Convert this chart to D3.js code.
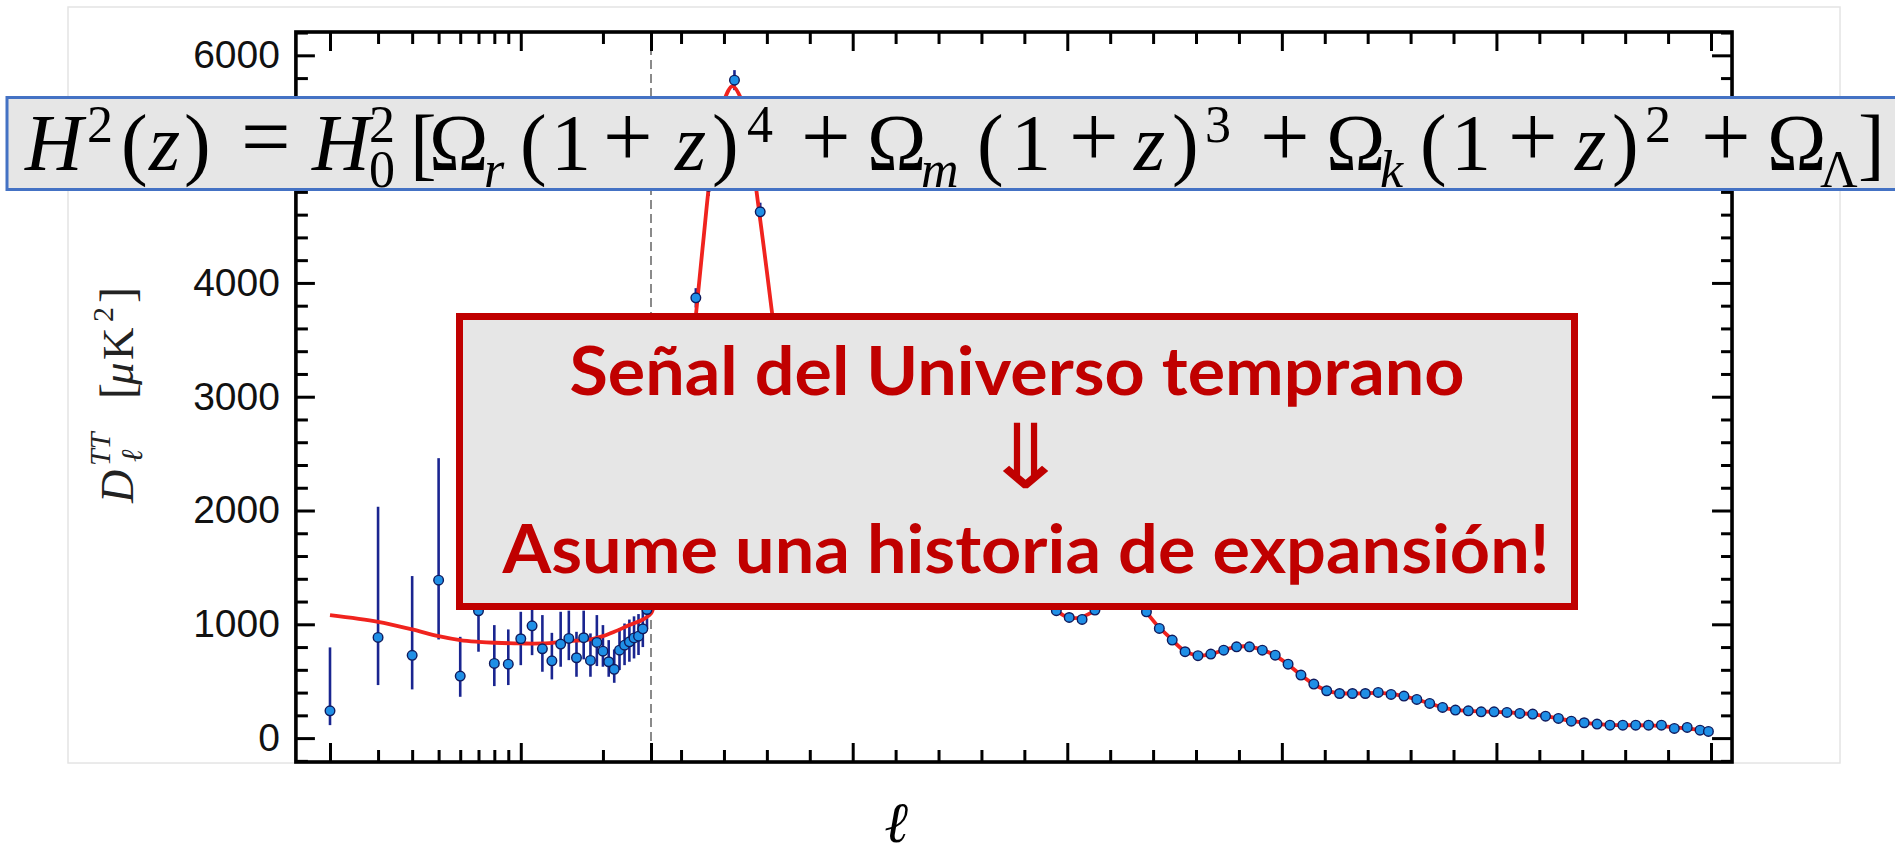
<!DOCTYPE html>
<html><head><meta charset="utf-8">
<script src="https://cdn.jsdelivr.net/npm/d3@7"></script>
<style>body{margin:0;background:#fff}svg{display:block}</style>
</head><body>
<svg id="c" width="1895" height="855"></svg>
<script>
// ---------- data ----------
const lowL  = [2,3,4,5,6,7,8,9,10,11,12,13,14,15,16,17,18,19,20,21,22,23,24,25,26,27,28,29];
const lowD  = [240,885,727,1388,545,1119,656,650,873,987,785,679,826,876,706,882,683,841,764,671,604,773,817,846,880,896,960,1130];
const lowLo = [114,466,428,867,363,759,457,466,641,729,583,516,627,685,539,692,539,633,627,539,486,598,641,671,700,730,800,960];
const lowHi = [797,2033,1424,2460,890,1480,993,955,1110,1250,1081,925,1110,1120,934,1120,920,1081,993,861,779,963,1007,1042,1070,1090,1140,1300];

const binL = [44.5,74.5,104.5,134.5,164.5,194.5,224.5,254.5,284.5,314.5,344.5,374.5,404.5,434.5,464.5,494.5,524.5,554.5,584.5,614.5,644.5,674.5,704.5,734.5,764.5,794.5,824.5,854.5,884.5,914.5,944.5,974.5,1004.5,1034.5,1064.5,1094.5,1124.5,1154.5,1184.5,1214.5,1244.5,1274.5,1304.5,1334.5,1364.5,1394.5,1424.5,1454.5,1484.5,1514.5,1544.5,1574.5,1604.5,1634.5,1664.5,1694.5,1724.5,1754.5,1784.5,1814.5,1844.5,1874.5,1904.5,1934.5,1964.5,1994.5,2024.5,2054.5,2084.5,2114.5,2144.5,2174.5,2204.5,2234.5,2264.5,2294.5,2324.5,2354.5,2384.5,2414.5,2444.5,2474.5,2494];
const binD = [1290,1830,2620,3869,4850,5530,5782,5350,4625,3650,2780,2110,1790,1790,2080,2420,2580,2550,2330,2050,1860,1800,1890,2110,2370,2500,2490,2280,1930,1560,1270,1120,1060,1043,1125,1185,1235,1200,1110,964,861,759,724,738,773,802,802,773,729,650,554,475,416,392,392,392,401,384,369,340,305,270,246,240,231,231,226,217,211,193,173,149,135,123,114,114,114,114,114,85,94,70,59];
const binErr = [70,75,80,85,85,85,88,85,80,70,60,55,50,50,50,50,50,48,45,42,40,38,36,35,34,33,32,30,28,26,24,22,20,20,20,19,18,18,17,16,15,15,14,14,13,13,13,12,12,12,11,11,11,11,11,11,11,11,11,11,11,11,11,11,11,11,11,12,12,12,12,12,12,12,12,13,13,13,13,14,14,15,15];

const modelL = [2,3,4,5,6,7,8,10,12,15,18,20,22,25,28,30,40,50,60,75,100,125,150,175,200,220,240,250,275,300,325,350,375,400,420,450,475,500,525,540,560,590,620,650,675,700,730,760,790,815,840,870,900,930,960,990,1010,1030,1060,1090,1120,1150,1180,1210,1240,1270,1300,1330,1360,1390,1420,1450,1480,1510,1540,1570,1600,1630,1660,1690,1720,1750,1780,1810,1840,1870,1900,1930,1960,1990,2020,2050,2080,2110,2140,2170,2200,2230,2260,2290,2320,2350,2380,2410,2440,2470,2500];
const modelD = [1081,1022,955,896,861,846,838,832,832,852,867,896,934,993,1042,1095,1220,1400,1560,1850,2480,3350,4300,5150,5600,5730,5620,5480,4830,4100,3350,2650,2100,1800,1730,1900,2200,2450,2580,2600,2550,2300,2000,1840,1800,1880,2100,2350,2500,2520,2420,2150,1750,1400,1180,1080,1055,1060,1110,1180,1230,1210,1120,990,880,775,728,733,768,800,806,780,735,660,568,485,425,396,392,393,397,390,372,345,310,275,250,240,234,231,227,220,211,196,176,154,138,125,117,114,113,112,108,96,86,74,63];

const yLabelVals   = [0,1000,2000,3000,4000,5000,6000];
const yMinorVals   = d3.range(-200, 6201, 200);
const lLogMajor    = [2,10,30];
const lLogMinor    = [3,4,5,6,7,8,9,20];
const lLinMajor    = [500,1000,1500,2000,2500];
const lLinMinor    = d3.range(100, 2501, 100).filter(v => v % 500 !== 0);
const boxLines     = ["Señal del Universo temprano", "⇓", "Asume una historia de expansión!"];
const yTitle       = ["D", "TT", "ℓ", "[", "μ", "K", "2", "]"];
const xTitle       = "ℓ";

// ---------- scales ----------
const xLog = d3.scaleLog().domain([2, 30]).range([330, 651]);
const xLin = d3.scaleLinear().domain([30, 2500]).range([651, 1711]);
const x = l => (l < 30 ? xLog(l) : xLin(l));
const y = d3.scaleLinear().domain([-210, 6205]).range([762, 32]);
const X0 = xLog(1.5), X1 = xLin(2549), Y0 = y(-210), Y1 = y(6205);

const svg = d3.select("#c");
svg.append("rect").attr("width",1895).attr("height",855).attr("fill","#fff");

// light outer border of the pasted figure
svg.append("rect").attr("x",68).attr("y",7).attr("width",1772).attr("height",756)
  .attr("fill","none").attr("stroke","#e4e4e4").attr("stroke-width",1.5);

svg.append("clipPath").attr("id","pc").append("rect")
  .attr("x",X0).attr("y",Y1).attr("width",X1-X0).attr("height",Y0-Y1);

// dashed divider at l=30
svg.append("line").attr("x1",x(30)).attr("x2",x(30)).attr("y1",Y1).attr("y2",Y0)
  .attr("stroke","#8a8a8a").attr("stroke-width",2).attr("stroke-dasharray","9,5");

// ---------- axes (ticks inward) ----------
const tickStyle = g => {
  g.select(".domain").remove();
  g.selectAll(".tick line").attr("stroke","#000").attr("stroke-width",3);
};
function xTicks(axisFn, ypos) {
  [[xLog, lLogMajor, 19],[xLog, lLogMinor, 12],[xLin, lLinMajor, 19],[xLin, lLinMinor, 12]].forEach(([sc, vals, len]) => {
    svg.append("g").attr("transform",`translate(0,${ypos})`)
      .call(axisFn(sc).tickValues(vals).tickSize(-len).tickFormat(""))
      .call(tickStyle);
  });
}
xTicks(d3.axisBottom, Y0);
xTicks(d3.axisTop, Y1);

svg.append("g").attr("transform",`translate(${X0},0)`)
  .call(d3.axisLeft(y).tickValues(yMinorVals.filter(v=>v%1000!==0)).tickSize(-12).tickFormat(""))
  .call(tickStyle);
const yl = svg.append("g").attr("transform",`translate(${X0},0)`)
  .call(d3.axisLeft(y).tickValues(yLabelVals).tickSize(-19).tickPadding(16).tickFormat(d3.format("d")))
  .call(tickStyle);
yl.selectAll("text").attr("font-family","'Liberation Sans', Arial, sans-serif").attr("font-size",39).attr("fill","#111");
svg.append("g").attr("transform",`translate(${X1},0)`)
  .call(d3.axisRight(y).tickValues(yMinorVals.filter(v=>v%1000!==0)).tickSize(-11).tickFormat(""))
  .call(tickStyle);
svg.append("g").attr("transform",`translate(${X1},0)`)
  .call(d3.axisRight(y).tickValues(yLabelVals).tickSize(-20).tickFormat(""))
  .call(tickStyle);

// ---------- data marks ----------
const plot = svg.append("g").attr("clip-path","url(#pc)");
const lowData = lowL.map((l,i)=>({l, d:lowD[i], lo:lowLo[i], hi:lowHi[i]}));
const binData = binL.map((l,i)=>({l, d:binD[i], lo:binD[i]-binErr[i], hi:binD[i]+binErr[i]}));
const allData = lowData.concat(binData);

plot.selectAll("line.err").data(allData).join("line").attr("class","err")
  .attr("x1",d=>x(d.l)).attr("x2",d=>x(d.l)).attr("y1",d=>y(d.lo)).attr("y2",d=>y(d.hi))
  .attr("stroke","#1a2590").attr("stroke-width",2.6);

const modelData = modelL.map((l,i)=>({l, d:modelD[i]}));
plot.append("path").datum(modelData)
  .attr("d", d3.line().x(d=>x(d.l)).y(d=>y(d.d)).curve(d3.curveCatmullRom.alpha(0.5)))
  .attr("fill","none").attr("stroke","#f0231e").attr("stroke-width",3.8).attr("stroke-linejoin","round");

plot.selectAll("circle.pt").data(allData).join("circle").attr("class","pt")
  .attr("cx",d=>x(d.l)).attr("cy",d=>y(d.d)).attr("r",4.8)
  .attr("fill","#1f8fe6").attr("stroke","#0f1a5c").attr("stroke-width",1.4);

// frame
svg.append("rect").attr("x",X0).attr("y",Y1).attr("width",X1-X0).attr("height",Y0-Y1)
  .attr("fill","none").attr("stroke","#000").attr("stroke-width",3.6);

// ---------- axis titles ----------
const serif = "'Liberation Serif', 'Times New Roman', serif";
const ytSpec = [[0,0,46,"italic"],[37,-23,30,"italic"],[41,9,30,"italic"],[104,0,48,"normal"],[118,0,45,"italic"],[143,0,45,"normal"],[181,-20,30,"normal"],[200,0,48,"normal"]];
const yt = svg.append("text").attr("transform","translate(133,503) rotate(-90)")
  .attr("font-family",serif).attr("fill","#222");
yTitle.forEach((t,i)=>{
  const s = ytSpec[i];
  yt.append("tspan").attr("x",s[0]).attr("y",s[1]).attr("font-size",s[2]).attr("font-style",s[3]).text(t);
});
svg.append("text").attr("x",896).attr("y",842).attr("text-anchor","middle")
  .attr("font-family","'DejaVu Serif', serif").attr("font-style","italic").attr("font-size",57).attr("fill","#000").text(xTitle);

// ---------- red annotation box ----------
svg.append("rect").attr("x",459.5).attr("y",316.5).attr("width",1115).attr("height",290)
  .attr("fill","#e6e6e6").attr("stroke","#c00000").attr("stroke-width",7);
const boxSpec = [[1017,395,895],[1025.5,488,null],[1026,573,1047]];
boxLines.forEach((t,i)=>{
  const s = boxSpec[i];
  if (s[2]) {
    svg.append("text").attr("x",s[0]).attr("y",s[1]).attr("text-anchor","middle")
      .attr("fill","#c00000").text(t)
      .attr("font-family","Lato, 'Open Sans', sans-serif").attr("font-weight",700).attr("font-size",66)
      .attr("textLength",s[2]).attr("lengthAdjust","spacingAndGlyphs");
  } else {
    svg.append("text").attr("transform",`translate(${s[0]},${s[1]}) scale(1.4,1.18)`)
      .attr("text-anchor","middle").attr("fill","#c00000")
      .attr("font-family","'Noto Sans CJK JP', 'DejaVu Sans', sans-serif").attr("font-size",76).text(t);
  }
});

// ---------- equation box ----------
svg.append("rect").attr("x",7).attr("y",97.5).attr("width",1900).attr("height",92)
  .attr("fill","#e6e6e6").attr("stroke","#4472c4").attr("stroke-width",3);
const eq = [
 ["H",25,"n",1],["2",87,"p",0],["(",121,"n",0],["z",149,"n",1],[")",184,"n",0],["=",241,"o",0],
 ["H",312,"n",1],["2",369,"p",0],["0",369,"b",0],["[",410,"n",0],["Ω",429,"n",0],["r",484,"b",1],
 ["(",520,"n",0],["1",551,"n",0],["+",603,"o",0],["z",675,"n",1],[")",712,"n",0],["4",747,"p",0],
 ["+",801,"o",0],["Ω",867,"n",0],["m",921,"b",1],["(",977,"n",0],["1",1011,"n",0],["+",1069,"o",0],
 ["z",1134,"n",1],[")",1172,"n",0],["3",1205,"p",0],["+",1260,"o",0],["Ω",1326,"n",0],["k",1380,"b",1],
 ["(",1420,"n",0],["1",1451,"n",0],["+",1508,"o",0],["z",1575,"n",1],[")",1612,"n",0],["2",1645,"p",0],
 ["+",1701,"o",0],["Ω",1767,"n",0],["Λ",1820,"b",0],["]",1858,"n",0]
];
const role = {n:[80,170], o:[88,166], p:[52,142], b:[52,187]};
const eqT = svg.append("text").attr("font-family",serif).attr("fill","#000");
eq.forEach(([t,px,r,it])=>{
  eqT.append("tspan").attr("x",px).attr("y",role[r][1]).attr("font-size",role[r][0])
    .attr("font-style", it ? "italic" : "normal").text(t);
});
</script>
</body></html>
